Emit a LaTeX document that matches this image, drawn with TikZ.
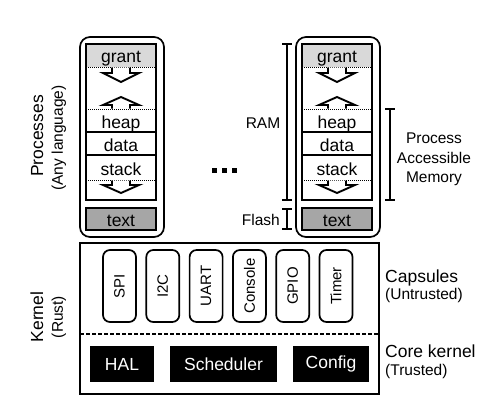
\documentclass[tikz,border=0pt]{standalone}
\usepackage{fontspec}
\setmainfont{Liberation Sans}
\definecolor{grantgray}{HTML}{D9D9D9}
\definecolor{textgray}{HTML}{A6A6A6}
\tikzset{
  px/.style={x=1pt,y=-1pt},
  outerbox/.style={draw,line width=1.7pt,rounded corners=10pt},
  memline/.style={line width=1.5pt},
  dotline/.style={line width=1pt,dash pattern=on 1pt off 1pt},
  arrowshape/.style={draw,fill=white,line width=1.9pt,line join=miter},
  lbl/.style={inner sep=0pt,font=\fontsize{17.5}{20}\selectfont},
  sublbl/.style={inner sep=0pt,font=\fontsize{15.5}{18}\selectfont},
  caplbl/.style={inner sep=0pt,font=\fontsize{15}{18}\selectfont,rotate=90},
  capbox/.style={draw,line width=1.7pt,rounded corners=7pt,minimum width=33pt,minimum height=72pt,inner sep=0pt},
  corebox/.style={fill=black,text=white,inner sep=0pt,minimum height=36pt,font=\fontsize{17.5}{20}\selectfont},
  bracket/.style={line width=1.2pt},
}
\newcommand{\memcol}[2]{%
  \begin{scope}[xshift=#1pt]
    \node[outerbox,minimum width=84pt,minimum height=200pt,inner sep=0pt] (#2outer) at (122,137) {};
    \fill[grantgray] (86,44) rectangle (156,67);
    \node[lbl,anchor=base] (#2grant) at (121,62) {grant};
    \node[lbl,anchor=base] (#2heap) at (121,128) {heap};
    \node[lbl,anchor=base] (#2data) at (121,151) {data};
    \node[lbl,anchor=base] (#2stack) at (121,175) {stack};
    \draw[memline] (86,44) rectangle (156,200);
    \draw[memline] (86,132) -- (156,132);
    \draw[memline] (86,155) -- (156,155);
    \draw[dotline] (86,67) -- (156,67);
    \draw[dotline] (86,109) -- (156,109);
    \draw[dotline] (86,180) -- (156,180);
    \draw[arrowshape] (112,67.5) -- (112,73) -- (103,73) -- (121,82) -- (139,73) -- (130,73) -- (130,67.5);
    \draw[arrowshape] (112,108.5) -- (112,105) -- (103,105) -- (121,97) -- (139,105) -- (130,105) -- (130,108.5);
    \draw[arrowshape] (112,180.5) -- (112,185) -- (103,185) -- (121,193) -- (139,185) -- (130,185) -- (130,180.5);
    \node[draw,memline,fill=textgray,minimum width=70pt,minimum height=22pt,inner sep=0pt] (#2textbox) at (121,219) {};
    \node[lbl,anchor=base] (#2text) at (121,226) {text};
  \end{scope}}
\begin{document}
\begin{tikzpicture}[px]
\useasboundingbox (0,0) rectangle (491,408);
\fill[white] (0,0) rectangle (491,408);
\memcol{0}{L}
\memcol{216}{R}
% dots
\foreach \dx [count=\i] in {212,222,232}{\fill (\dx,168) rectangle ++(5,5);}
% left labels
\node[lbl,rotate=90,anchor=base] (proc) at (43,136) {Processes};
\node[sublbl,rotate=90,anchor=base] (anylang) at (63,138) {(Any language)};
% RAM / Flash brackets
\coordinate (ramT) at (287,44);
\coordinate (ramB) at (287,200);
\draw[bracket] (ramT) -- (ramB);
\draw[bracket] (282,44) -- (292,44);
\draw[bracket] (282,200) -- (292,200);
\node[sublbl,anchor=base] (ram) at (263,128) {RAM};
\coordinate (flT) at (287,209);
\coordinate (flB) at (287,229);
\draw[bracket] (flT) -- (flB);
\draw[bracket] (282,209) -- (292,209);
\draw[bracket] (282,229) -- (292,229);
\node[sublbl,anchor=base east] (flash) at (280,225) {Flash};
% PAM bracket
\coordinate (pamT) at (390,109);
\coordinate (pamB) at (390,200);
\draw[bracket] (pamT) -- (pamB);
\draw[bracket] (385,109) -- (395,109);
\draw[bracket] (385,200) -- (395,200);
\node[sublbl,anchor=base] (pam1) at (434,143) {Process};
\node[sublbl,anchor=base] (pam2) at (434,163) {Accessible};
\node[sublbl,anchor=base] (pam3) at (434,182) {Memory};
% kernel
\node[draw,line width=1.6pt,minimum width=299pt,minimum height=151pt,inner sep=0pt] (kernel) at (229.5,318.5) {};
\coordinate (dashL) at (80,334);
\coordinate (dashR) at (379,334);
\draw[line width=1.3pt,dash pattern=on 4pt off 2pt] (dashL) -- (dashR);
\foreach \t [count=\i from 0] in {SPI,I2C,UART,Console,GPIO,Timer}{
  \node[capbox] (cap\i) at ({119.5+43.3*\i},286) {};
  \node[caplbl] (capt\i) at (cap\i.center) {\t};
}
\node[corebox,minimum width=64pt] (hal) at (122,364) {HAL};
\node[corebox,minimum width=107pt] (sched) at (223.5,364) {Scheduler};
\node[corebox,minimum width=76pt] (config) at (331,364) {Config};
\node[lbl,rotate=90,anchor=base] (kern) at (43,317) {Kernel};
\node[sublbl,rotate=90,anchor=base] (rust) at (63,317) {(Rust)};
\node[lbl,anchor=base west] (caps) at (385,282) {Capsules};
\node[sublbl,anchor=base west] (untr) at (385,299) {(Untrusted)};
\node[lbl,anchor=base west] (core) at (385,357) {Core kernel};
\node[sublbl,anchor=base west] (tr) at (385,375) {(Trusted)};
\end{tikzpicture}
\end{document}
